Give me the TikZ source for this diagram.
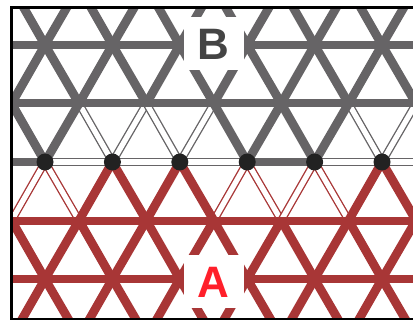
\documentclass[tikz,border=0pt]{standalone}
\usepackage{fontspec}
\setmainfont{Liberation Sans}
\usetikzlibrary{calc}
\definecolor{latgray}{HTML}{666466}
\definecolor{latred}{HTML}{A83636}
\definecolor{dotblack}{HTML}{222222}
\definecolor{letterb}{HTML}{444444}
\definecolor{lettera}{HTML}{FF1F2A}

\begin{document}
\begin{tikzpicture}[
  x=0.75pt, y=-0.75pt,
  thickbar/.style={line width=6pt},
  diagbar/.style={line width=6.6pt},
  thinbar/.style={line width=1pt, double=white, double distance=4pt},
  dotnode/.style={circle, fill=dotblack, inner sep=0pt, minimum size=12.75pt},
  letterbox/.style={fill=white, inner sep=0pt, minimum width=45pt, minimum height=39.75pt, text height=24pt, font=\fontsize{33}{33}\selectfont\bfseries},
  frameline/.style={line width=2.25pt, draw=black}
]
\useasboundingbox (0,0) rectangle (413,320);

% === LATTICE POINTS ===
\foreach \row/\ypos/\off in {t/-13.5/11.6, p/45/-22.4, q/103.5/11.6, m/162/-22.4, r/220.5/11.6, s/279/-22.4, u/337.5/11.6} {
  \foreach \k in {0,...,7} {
    \coordinate (\row\k) at ({\off+67.4*\k},\ypos);
  }
}
\coordinate (frameTR) at (413,7.5);
\coordinate (frameTL) at (11.5,7.5);
\coordinate (frameBL) at (11.5,319);
\coordinate (frameBR) at (413,319);
\coordinate (clipTL) at (11.5,7.5);
\coordinate (clipBR) at (420,319);

\begin{scope}
\clip (clipTL) rectangle (clipBR);

% === THIN BARS ===
\foreach \k in {2,3,6} {
  \draw[thinbar, latgray] (m\k) -- (q\the\numexpr\k-1\relax);
  \draw[thinbar, latgray] (m\k) -- (q\k);
}
\foreach \k in {1,4,5} {
  \draw[thinbar, latred] (m\k) -- (r\the\numexpr\k-1\relax);
  \draw[thinbar, latred] (m\k) -- (r\k);
}
\draw[thinbar, latgray] (m1) -- (m2);
\draw[thinbar, latgray] (m2) -- (m3);
\draw[thinbar, latgray] (m3) -- (m4);
\draw[thinbar, latgray] (m5) -- (m6);
\draw[thinbar, latgray] (m6) -- (m7);

% === THICK BARS, B SIDE ===
\foreach \k in {1,...,7} {
  \draw[diagbar, latgray] (p\k) -- (t\the\numexpr\k-1\relax);
  \draw[diagbar, latgray] (p\k) -- (t\k);
  \draw[diagbar, latgray] (p\k) -- (q\the\numexpr\k-1\relax);
  \draw[diagbar, latgray] (p\k) -- (q\k);
}
\foreach \k in {1,4,5} {
  \draw[diagbar, latgray] (m\k) -- (q\the\numexpr\k-1\relax);
  \draw[diagbar, latgray] (m\k) -- (q\k);
}
\draw[thickbar, latgray] (p0) -- (p7);
\draw[thickbar, latgray] (q0) -- (q7);
\draw[thickbar, latgray] (m0) -- (m1);
\draw[thickbar, latgray] (m4) -- (m5);

% === THICK BARS, A SIDE ===
\foreach \k in {2,3,6} {
  \draw[diagbar, latred] (m\k) -- (r\the\numexpr\k-1\relax);
  \draw[diagbar, latred] (m\k) -- (r\k);
}
\foreach \k in {1,...,7} {
  \draw[diagbar, latred] (s\k) -- (r\the\numexpr\k-1\relax);
  \draw[diagbar, latred] (s\k) -- (r\k);
  \draw[diagbar, latred] (s\k) -- (u\the\numexpr\k-1\relax);
  \draw[diagbar, latred] (s\k) -- (u\k);
}
\draw[thickbar, latred] (r0) -- (r7);
\draw[thickbar, latred] (s0) -- (s7);
\end{scope}

% === DOTS ===
\foreach \k in {1,...,6} {
  \node[dotnode] (dot\k) at (m\k) {};
}

% === LETTERS ===
\node[letterbox, text=letterb] (letterB) at (213.5,44) {B};
\node[letterbox, text=lettera] (letterA) at (213.5,281) {A};

% === FRAME ===
\draw[frameline] (frameTR) -- (frameTL) -- (frameBL) -- (frameBR);

\end{tikzpicture}
\end{document}
